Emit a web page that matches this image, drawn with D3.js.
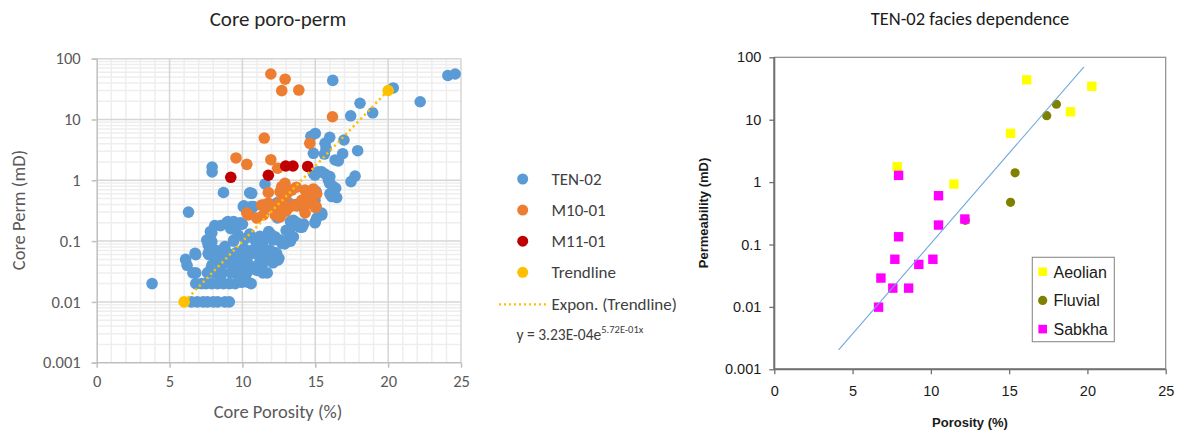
<!DOCTYPE html>
<html>
<head>
<meta charset="utf-8">
<script src="https://cdn.jsdelivr.net/npm/d3@7/dist/d3.min.js"></script>
<style>
  body { margin: 0; background: #fff; }
  svg { display: block; }
</style>
</head>
<body>
<script>
// ---- left chart data (Core poro-perm) ----
var ten02 = [
  [6.5,0.01],[6.9,0.01],[7.3,0.01],[7.6,0.01],[8.0,0.01],[8.3,0.01],[8.8,0.01],[9.1,0.01],
  [6.8,0.02],[7.2,0.02],[7.5,0.02],[7.9,0.02],[8.3,0.02],[8.7,0.02],[9.1,0.02],[9.5,0.02],[9.95,0.021],[10.4,0.021],[10.6,0.02],
  [3.8,0.02],[6.3,0.3],
  [6.8,0.03],[6.6,0.03],[7.6,0.03],[7.8,0.033],[8.1,0.03],[8.5,0.025],[8.6,0.03],[9.2,0.03],[9.6,0.03],[9.9,0.03],[10.3,0.03],[11.4,0.03],[11.7,0.03],
  [6.1,0.05],[6.2,0.04],[6.8,0.06],[6.75,0.063],[7.7,0.06],[7.9,0.04],[8.1,0.059],[8.3,0.05],[8.6,0.04],[8.9,0.05],[9.15,0.043],[9.15,0.052],
  [9.4,0.05],[9.7,0.04],[10.0,0.045],[10.3,0.038],[10.3,0.05],[10.5,0.04],[10.8,0.035],[11.0,0.033],[11.2,0.046],[11.4,0.043],
  [11.7,0.055],[11.9,0.055],[12.0,0.063],[12.1,0.044],[12.45,0.049],[12.5,0.052],
  [7.65,0.063],[7.8,0.067],[8.2,0.07],[8.6,0.071],[8.8,0.081],[8.9,0.065],[9.2,0.06],[9.4,0.049],[9.6,0.065],[10.0,0.06],[10.1,0.075],
  [10.4,0.063],[10.6,0.07],[10.8,0.063],[11.1,0.075],[11.4,0.09],[11.4,0.063],[11.7,0.07],[11.9,0.07],[12.2,0.065],[12.35,0.063],
  [12.7,0.092],[12.9,0.09],[12.6,0.104],
  [7.55,0.104],[7.65,0.086],[7.8,0.1],[7.9,0.098],[7.8,0.143],[7.9,0.137],[9.4,0.1],[9.4,0.104],[9.7,0.125],[10.2,0.11],[10.5,0.13],
  [10.9,0.1],[11.2,0.12],[11.7,0.118],[11.95,0.13],[12.1,0.104],[12.25,0.118],[13.0,0.1],[13.3,0.1],[13.5,0.118],[13.0,0.15],
  [11.8,0.143],[13.15,0.15],
  [8.1,0.18],[8.5,0.18],[8.9,0.2],[9.0,0.21],[9.2,0.16],[9.4,0.21],[9.4,0.18],[9.7,0.18],[9.85,0.2],[10.0,0.19],
  [13.4,0.173],[13.5,0.22],[13.5,0.2],[13.75,0.2],[13.95,0.17],[14.1,0.17],[14.2,0.19],[14.98,0.2],[15.0,0.21],[15.1,0.24],[15.45,0.27],[15.44,0.29],
  [12.4,0.24],[13.3,0.21],
  [8.7,0.63],[10.06,0.37],[10.1,0.38],[10.6,0.37],[10.75,0.37],[10.5,0.29],[10.5,0.62],[10.64,0.61],[11.55,0.87],
  [12.35,0.42],[12.46,0.44],[12.6,0.43],[13.2,0.42],[13.7,0.4],[14.1,0.37],[14.98,0.47],[15.0,0.37],[15.06,0.65],[14.9,0.5],
  [16.13,0.54],[16.47,0.52],[16.4,0.74],[16.24,0.79],[16.0,0.6],[16.0,0.89],[15.9,1.0],[17.45,0.95],[17.73,1.17],
  [15.2,1.38],[15.44,1.38],[15.67,1.27],[16.0,1.15],[14.98,1.22],[14.87,1.3],
  [7.92,1.65],[7.92,1.37],[15.62,2.7],[15.74,3.36],[15.67,4.06],[15.99,5.1],[14.7,5.3],[15.0,5.9],
  [16.88,2.74],[16.97,4.6],[16.58,2.08],[17.91,3.07],[14.87,2.78],[16.36,2.16],
  [16.2,44],[17.43,11.5],[18.94,12.9],[18.07,18.5],[20.35,33],[22.2,19.6],[24.1,53],[24.6,56]
];
var m1001 = [
  [11.95,56],[12.93,46],[12.7,29.8],[13.87,30.5],[16.18,11.1],[11.5,4.95],[14.62,4.05],
  [9.56,2.33],[10.3,1.83],[11.95,2.18],[12.42,1.58],
  [12.92,0.89],[12.7,0.79],[12.58,0.65],[11.78,0.63],[13.38,0.69],[13.7,0.77],[13.0,0.57],
  [14.3,0.69],[14.87,0.72],[14.52,0.57],[15.1,0.6],[14.75,0.47],[14.07,0.47],[14.99,0.61],
  [12.58,0.44],[11.78,0.42],[11.32,0.39],[13.5,0.39],[13.04,0.37],[11.56,0.4],[11.9,0.37],
  [12.47,0.39],[12.8,0.32],[13.27,0.37],[13.73,0.38],[14.3,0.39],[14.65,0.42],[15.06,0.37],
  [10.3,0.29],[10.4,0.27],[10.98,0.24],[11.44,0.27],[12.24,0.27],[12.59,0.25],[13.0,0.31],[14.3,0.29],[15.0,0.36]
];
var m1101 = [[9.2,1.12],[11.78,1.21],[12.97,1.72],[13.47,1.72],[14.48,1.69]];
var trendPts = [[6,0.01],[20,30]];
var leftLegend = ["TEN-02", "M10-01", "M11-01", "Trendline"];
var leftColors = ["#5b9bd5", "#ed7d31", "#c00000", "#ffc000"];

// ---- right chart data (TEN-02 facies dependence) ----
var aeolian = [[7.85,1.77],[11.47,0.93],[15.09,6.05],[16.12,43.5],[18.92,13.4],[20.28,34.3]];
var fluvial = [[12.2,0.244],[15.09,0.474],[15.38,1.41],[17.4,11.6],[18.02,17.7]];
var sabkha = [
  [7.94,1.28],[10.49,0.605],[12.17,0.256],[10.49,0.205],[7.94,0.133],[7.7,0.058],[10.13,0.058],
  [9.23,0.048],[6.81,0.029],[7.57,0.02],[8.58,0.02],[6.66,0.0099]
];
var rightTrend = [[4.11,0.00204],[19.78,70.5]];
var rightLegend = ["Aeolian", "Fluvial", "Sabkha"];

var xTicks = [0, 5, 10, 15, 20, 25];
var yTicks = [0.001, 0.01, 0.1, 1, 10, 100];
var yTickLabels = ["0.001", "0.01", "0.1", "1", "10", "100"];

var width = 1180, height = 430;

var svg = d3.select("body").append("svg")
    .attr("width", width)
    .attr("height", height);

// ================= left chart =================
var lx = d3.scaleLinear().domain([0, 25]).range([96.7, 461]);
var ly = d3.scaleLog().domain([0.001, 100]).range([362.7, 58.7]);
var calibri = "Carlito, Lato, 'Open Sans', sans-serif";

var left = svg.append("g");

// minor grid
var minorX = d3.range(0, 26).filter(function(d) { return d % 5 != 0; });
var minorY = [];
yTicks.slice(0, -1).forEach(function(t) {
    for (var k = 2; k <= 9; k++) minorY.push(t * k);
});

left.selectAll(".minx").data(minorX).enter().append("line")
    .attr("x1", function(d) { return lx(d); }).attr("x2", function(d) { return lx(d); })
    .attr("y1", ly(100)).attr("y2", ly(0.001))
    .style("stroke", "#eeeeee").style("stroke-width", 1.5);
left.selectAll(".miny").data(minorY).enter().append("line")
    .attr("x1", lx(0)).attr("x2", lx(25))
    .attr("y1", function(d) { return ly(d); }).attr("y2", function(d) { return ly(d); })
    .style("stroke", "#eeeeee").style("stroke-width", 1.5);

// major grid
left.selectAll(".majx").data(xTicks.slice(1)).enter().append("line")
    .attr("x1", function(d) { return lx(d); }).attr("x2", function(d) { return lx(d); })
    .attr("y1", ly(100)).attr("y2", ly(0.001))
    .style("stroke", "#d6d6d6").style("stroke-width", 1.5);
left.selectAll(".majy").data(yTicks.slice(1)).enter().append("line")
    .attr("x1", lx(0)).attr("x2", lx(25))
    .attr("y1", function(d) { return ly(d); }).attr("y2", function(d) { return ly(d); })
    .style("stroke", "#d6d6d6").style("stroke-width", 1.5);

// axes
var lxAxis = d3.axisBottom(lx).tickValues(xTicks).tickSize(5).tickPadding(8);
var lyAxis = d3.axisLeft(ly).tickValues(yTicks).tickSize(5).tickPadding(11)
    .tickFormat(function(d, i) { return yTickLabels[i]; });

var gx = left.append("g")
    .attr("transform", "translate(0," + ly(0.001) + ")")
    .call(lxAxis);
var gy = left.append("g")
    .attr("transform", "translate(" + lx(0) + ",0)")
    .call(lyAxis);
[gx, gy].forEach(function(g) {
    g.select(".domain").style("stroke", "#bfbfbf").style("stroke-width", 1.5);
    g.selectAll(".tick line").style("stroke", "#bfbfbf").style("stroke-width", 1.5);
    g.selectAll("text").style("font-family", calibri).style("font-size", "16.5px").style("fill", "#595959");
});
gx.select(".domain").attr("d", "M" + lx(0) + ",0H" + lx(25));

// points
var series = [ten02, m1001, m1101];
series.forEach(function(s, i) {
    left.append("g").selectAll("circle").data(s).enter().append("circle")
        .attr("cx", function(d) { return lx(d[0]); })
        .attr("cy", function(d) { return ly(d[1]); })
        .attr("r", 5.8)
        .style("fill", leftColors[i]);
});

// exponential trendline (straight on log axis)
var trendLine = d3.line()
    .x(function(d) { return lx(d[0]); })
    .y(function(d) { return ly(d[1]); });
left.append("path")
    .datum(trendPts)
    .attr("d", trendLine)
    .style("fill", "none")
    .style("stroke", "#ffc000")
    .style("stroke-width", 2.5)
    .style("stroke-dasharray", "2.2,3.2");

left.append("g").selectAll("circle").data(trendPts).enter().append("circle")
    .attr("cx", function(d) { return lx(d[0]); })
    .attr("cy", function(d) { return ly(d[1]); })
    .attr("r", 5.8)
    .style("fill", leftColors[3]);

// titles
left.append("text")
    .attr("x", 278).attr("y", 26)
    .style("text-anchor", "middle")
    .style("font-family", calibri).style("font-size", "21px").style("fill", "#262626")
    .text("Core poro-perm");
left.append("text")
    .attr("x", 278).attr("y", 418)
    .style("text-anchor", "middle")
    .style("font-family", calibri).style("font-size", "18.5px").style("fill", "#595959")
    .text("Core Porosity (%)");
left.append("text")
    .attr("transform", "translate(25,210) rotate(-90)")
    .style("text-anchor", "middle")
    .style("font-family", calibri).style("font-size", "18.5px").style("fill", "#595959")
    .text("Core Perm (mD)");

// legend
var leg = left.append("g");
leftLegend.forEach(function(name, i) {
    var yy = 179 + i * 31.1;
    leg.append("circle").attr("cx", 522.7).attr("cy", yy).attr("r", 5.5).style("fill", leftColors[i]);
    leg.append("text").attr("x", 551.5).attr("y", yy + 5.5)
        .style("font-family", calibri).style("font-size", "17px").style("fill", "#404040")
        .text(name);
});
leg.append("line")
    .attr("x1", 499).attr("x2", 546).attr("y1", 304.3).attr("y2", 304.3)
    .style("stroke", "#ffc000").style("stroke-width", 2.2)
    .style("stroke-dasharray", "2,3");
leg.append("text").attr("x", 551.5).attr("y", 310)
    .style("font-family", calibri).style("font-size", "17px").style("fill", "#404040")
    .text("Expon. (Trendline)");
var eq = leg.append("text").attr("x", 516.5).attr("y", 339.5)
    .style("font-family", calibri).style("font-size", "15.5px").style("fill", "#404040");
eq.append("tspan").text("y = 3.23E-04e");
eq.append("tspan").attr("dy", -6.5).style("font-size", "10.5px").text("5.72E-01x");

// ================= right chart =================
var rx = d3.scaleLinear().domain([0, 25]).range([774.3, 1165.7]);
var ry = d3.scaleLog().domain([0.001, 100]).range([369.3, 57.3]);
var arial = "'Liberation Sans', Arial, sans-serif";

var right = svg.append("g");

right.append("rect")
    .attr("x", rx(0)).attr("y", ry(100))
    .attr("width", rx(25) - rx(0)).attr("height", ry(0.001) - ry(100))
    .style("fill", "none").style("stroke", "#8c8c8c").style("stroke-width", 1.2);

var rxAxis = d3.axisBottom(rx).tickValues(xTicks).tickSize(5).tickPadding(11);
var ryAxis = d3.axisLeft(ry).tickValues(yTicks).tickSize(5).tickPadding(8)
    .tickFormat(function(d, i) { return yTickLabels[i]; });

var rgx = right.append("g")
    .attr("transform", "translate(0," + ry(0.001) + ")")
    .call(rxAxis);
var rgy = right.append("g")
    .attr("transform", "translate(" + rx(0) + ",0)")
    .call(ryAxis);
[rgx, rgy].forEach(function(g) {
    g.select(".domain").style("stroke", "#707070").style("stroke-width", 2);
    g.selectAll(".tick line").style("stroke", "#707070").style("stroke-width", 1.3);
    g.selectAll("text").style("font-family", arial).style("font-size", "14.5px").style("fill", "#1a1a1a");
});
rgx.select(".domain").attr("d", "M" + rx(0) + ",0H" + rx(25));
rgy.select(".domain").attr("d", "M0," + ry(100) + "V" + ry(0.001));

// squares and circles
function drawSquares(data, color) {
    right.append("g").selectAll("rect").data(data).enter().append("rect")
        .attr("x", function(d) { return rx(d[0]) - 4.7; })
        .attr("y", function(d) { return ry(d[1]) - 4.7; })
        .attr("width", 9.4).attr("height", 9.4)
        .style("fill", color);
}
drawSquares(aeolian, "#ffff00");
right.append("g").selectAll("circle").data(fluvial).enter().append("circle")
    .attr("cx", function(d) { return rx(d[0]); })
    .attr("cy", function(d) { return ry(d[1]); })
    .attr("r", 4.6)
    .style("fill", "#808000");
drawSquares(sabkha, "#ff00ff");

var rLine = d3.line()
    .x(function(d) { return rx(d[0]); })
    .y(function(d) { return ry(d[1]); });
right.append("path")
    .datum(rightTrend)
    .attr("d", rLine)
    .style("fill", "none")
    .style("stroke", "#6fa8dc")
    .style("stroke-width", 1.1);

right.append("text")
    .attr("x", 970).attr("y", 25)
    .style("text-anchor", "middle")
    .style("font-family", calibri).style("font-size", "18.5px").style("fill", "#1a1a1a")
    .text("TEN-02 facies dependence");
right.append("text")
    .attr("x", 970).attr("y", 426.5)
    .style("text-anchor", "middle")
    .style("font-family", arial).style("font-size", "13px").style("font-weight", "bold").style("fill", "#1a1a1a")
    .text("Porosity (%)");
right.append("text")
    .attr("transform", "translate(708,213) rotate(-90)")
    .style("text-anchor", "middle")
    .style("font-family", arial).style("font-size", "13px").style("font-weight", "bold").style("fill", "#1a1a1a")
    .text("Permeability (mD)");

// legend box
var rleg = right.append("g");
rleg.append("rect")
    .attr("x", 1032.3).attr("y", 257.3).attr("width", 82).attr("height", 84.4)
    .style("fill", "#fff").style("stroke", "#8c8c8c").style("stroke-width", 1.1);
var legColors = ["#ffff00", "#808000", "#ff00ff"];
rightLegend.forEach(function(name, i) {
    var yy = 271.7 + i * 28.7;
    if (i == 1) {
        rleg.append("circle").attr("cx", 1042.7).attr("cy", yy).attr("r", 4.6).style("fill", legColors[i]);
    } else {
        rleg.append("rect").attr("x", 1042.7 - 4.3).attr("y", yy - 4.3)
            .attr("width", 8.6).attr("height", 8.6).style("fill", legColors[i]);
    }
    rleg.append("text").attr("x", 1053.5).attr("y", yy + 6)
        .style("font-family", arial).style("font-size", "16px").style("fill", "#1a1a1a")
        .text(name);
});
</script>
</body>
</html>
